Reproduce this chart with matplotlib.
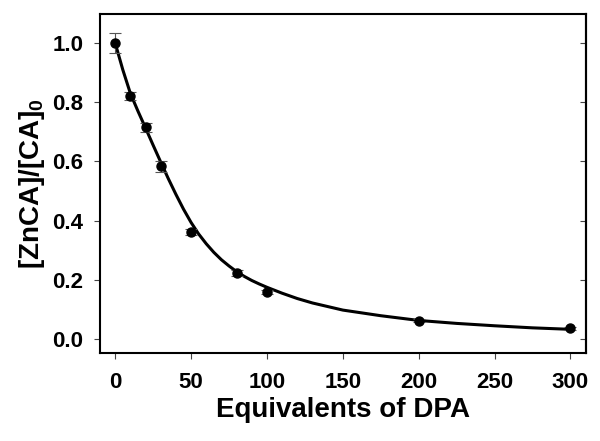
import matplotlib
matplotlib.use("Agg")
import matplotlib.pyplot as plt

plt.rcParams['font.family'] = ['Liberation Sans', 'DejaVu Sans']
plt.rcParams['mathtext.fontset'] = 'custom'
plt.rcParams['mathtext.rm'] = 'Liberation Sans:bold'
plt.rcParams['mathtext.bf'] = 'Liberation Sans:bold'
plt.rcParams['mathtext.default'] = 'bf'

# Measured data
equiv = [0, 10, 20, 30, 50, 80, 100, 200, 300]
ratio = [1.0, 0.822, 0.715, 0.584, 0.362, 0.224, 0.158, 0.062, 0.037]
ratio_err = [0.033, 0.014, 0.015, 0.019, 0.010, 0.011, 0.007, 0.005, 0.005]

# Fitted curve
curve_x = [0, 5, 10, 15, 20, 25, 30, 35, 40, 45, 50, 55, 60, 65, 70, 75, 80,
           85, 90, 95, 100, 110, 120, 130, 150, 175, 200, 225, 250, 275, 300]
curve_y = [1.0, 0.91, 0.83, 0.77, 0.713, 0.655, 0.598, 0.542, 0.489, 0.439,
           0.394, 0.355, 0.322, 0.293, 0.268, 0.247, 0.228, 0.212, 0.198,
           0.186, 0.175, 0.155, 0.137, 0.122, 0.098, 0.079, 0.063, 0.053,
           0.045, 0.038, 0.033]

x_ticks = [0, 50, 100, 150, 200, 250, 300]
y_ticks = [0.0, 0.2, 0.4, 0.6, 0.8, 1.0]
y_ticklabels = ['0.0', '0.2', '0.4', '0.6', '0.8', '1.0']

fig = plt.figure(figsize=(6.0, 4.41), dpi=100)
ax = fig.add_axes([0.1667, 0.2002, 0.8093, 0.768])

ax.plot(curve_x, curve_y, color='black', lw=2.2, zorder=2, solid_capstyle='round',
        solid_joinstyle='round')
ax.errorbar(equiv, ratio, yerr=ratio_err, fmt='o', color='black', ms=6.5,
            ecolor='#555555', elinewidth=0.8, capsize=4, capthick=0.8, zorder=3)

ax.set_xlim(-10, 310)
ax.set_ylim(-0.046, 1.098)
ax.set_xticks(x_ticks)
ax.set_yticks(y_ticks)
ax.set_yticklabels(y_ticklabels)

for s in ax.spines.values():
    s.set_linewidth(1.5)
    s.set_color('black')

ax.tick_params(axis='both', which='major', direction='out', length=4, width=0.8,
               color='#444444', labelsize=16)
ax.tick_params(axis='x', pad=10)
ax.tick_params(axis='y', pad=8)
for lab in ax.get_xticklabels() + ax.get_yticklabels():
    lab.set_fontweight('bold')

# inward ticks on the right
ax2 = ax.secondary_yaxis('right')
ax2.set_yticks(y_ticks)
ax2.tick_params(direction='in', length=4, width=0.8, color='#444444', labelright=False)
ax2.spines['right'].set_linewidth(1.5)

ax.set_xlabel('Equivalents of DPA', fontsize=20, fontweight='bold', labelpad=3)
ax.set_ylabel(r'[ZnCA]/[CA]$_{\mathbf{0}}$', fontsize=20, fontweight='bold', labelpad=4)

fig.savefig('out.png', dpi=100)
